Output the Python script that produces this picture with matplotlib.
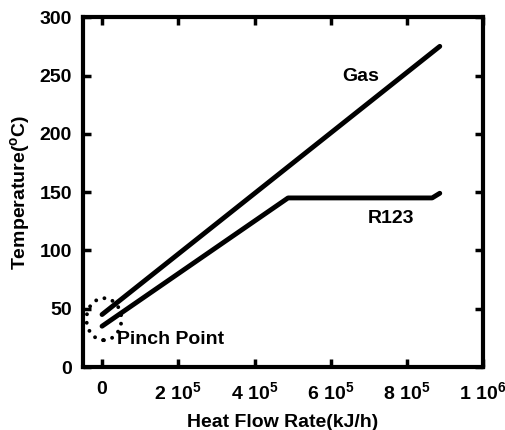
import numpy as np
import matplotlib
matplotlib.use("Agg")
import matplotlib.pyplot as plt
from matplotlib.patches import Ellipse
from matplotlib.ticker import FuncFormatter

plt.rcParams['font.family'] = ['Liberation Sans', 'DejaVu Sans']
plt.rcParams['font.weight'] = 'bold'
plt.rcParams['mathtext.fontset'] = 'custom'
plt.rcParams['mathtext.rm'] = 'Liberation Sans:bold'
plt.rcParams['mathtext.bf'] = 'Liberation Sans:bold'
plt.rcParams['mathtext.it'] = 'Liberation Sans:bold'

# data (heat flow kJ/h, temperature C)
gas_q = [0, 886000]
gas_t = [45, 275]
r123_q = [0, 488000, 866000, 886000]
r123_t = [35, 145, 145, 149]

x_ticks = [0, 2e5, 4e5, 6e5, 8e5, 1e6]
y_ticks = [0, 50, 100, 150, 200, 250, 300]

fig = plt.figure(figsize=(5.06, 4.30), dpi=100)
ax = fig.add_axes([0.164, 0.1465, 0.791, 0.8135])

ax.plot(gas_q, gas_t, color='black', lw=3.5, solid_capstyle='round')
ax.plot(r123_q, r123_t, color='black', lw=3.5, solid_capstyle='round',
        solid_joinstyle='round')

# pinch point circle
ax.add_patch(Ellipse((5000, 41), 92000, 36, fill=False, ls=(0, (0.01, 2.2)),
                     lw=2.8, ec='black', capstyle='round', clip_on=False))

ax.text(679000, 249, 'Gas', ha='center', va='center', fontsize=14, fontweight='bold')
ax.text(758000, 127, 'R123', ha='center', va='center', fontsize=14, fontweight='bold')
ax.text(181000, 23.6, 'Pinch Point', ha='center', va='center', fontsize=14,
        fontweight='bold')

ax.set_xlim(-50000, 1e6)
ax.set_ylim(0, 300)
ax.set_xticks(x_ticks)
ax.set_yticks(y_ticks)


def fmt(v, pos):
    if v == 0:
        return '0'
    e = int(np.floor(np.log10(v)))
    m = int(round(v / 10 ** e))
    return r'$\mathbf{%d\ 10^{%d}}$' % (m, e)


ax.xaxis.set_major_formatter(FuncFormatter(fmt))
ax.tick_params(direction='in', length=6, width=2.5, top=True, right=True,
               labelsize=14)
ax.tick_params(axis='x', pad=10)
ax.tick_params(axis='y', pad=8)
for lab in ax.get_yticklabels() + ax.get_xticklabels():
    lab.set_fontweight('bold')
for s in ax.spines.values():
    s.set_linewidth(3)

ax.set_xlabel('Heat Flow Rate(kJ/h)', fontsize=14, fontweight='bold', labelpad=8)
ax.set_ylabel(r'Temperature($^{\mathbf{o}}$C)', fontsize=14, fontweight='bold', labelpad=5)

fig.savefig('out.png', dpi=100)
